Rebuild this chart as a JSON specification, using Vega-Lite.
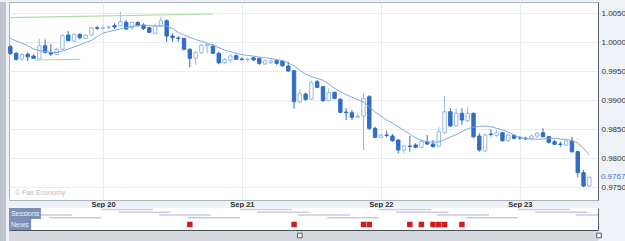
{
"$schema": "https://vega.github.io/schema/vega-lite/v6.json",
"background": "#eef1f6",
"padding": {"left": 0, "top": 1, "right": 0, "bottom": 0},
"config": {"font": "Liberation Sans", "view": {"stroke": null}, "axisY": {"labelOverlap": false}},
"spacing": 0,
"datasets": {
"candles": [
{"t":"2022-09-19T08:00","o":0.99919,"h":0.99948,"l":0.99776,"c":0.99805,"m":1.00060},
{"t":"2022-09-19T09:00","o":0.99805,"h":0.99822,"l":0.99678,"c":0.99702,"m":1.00017},
{"t":"2022-09-19T10:00","o":0.99707,"h":0.99815,"l":0.99672,"c":0.99788,"m":0.99978},
{"t":"2022-09-19T11:00","o":0.99788,"h":0.99822,"l":0.99672,"c":0.99746,"m":0.99940},
{"t":"2022-09-19T12:00","o":0.99759,"h":0.99788,"l":0.99707,"c":0.99719,"m":0.99879},
{"t":"2022-09-19T13:00","o":0.99707,"h":1.00052,"l":0.99690,"c":0.99936,"m":0.99852},
{"t":"2022-09-19T14:00","o":0.99936,"h":1.00046,"l":0.99805,"c":0.99822,"m":0.99834},
{"t":"2022-09-19T15:00","o":0.99819,"h":0.99965,"l":0.99759,"c":0.99793,"m":0.99824},
{"t":"2022-09-19T16:00","o":0.99788,"h":0.99902,"l":0.99776,"c":0.99874,"m":0.99817},
{"t":"2022-09-19T17:00","o":0.99874,"h":1.00133,"l":0.99862,"c":1.00109,"m":0.99845},
{"t":"2022-09-19T18:00","o":1.00121,"h":1.00190,"l":1.00017,"c":1.00022,"m":0.99879},
{"t":"2022-09-19T19:00","o":1.00017,"h":1.00150,"l":1.00005,"c":1.00133,"m":0.99914},
{"t":"2022-09-19T20:00","o":1.00133,"h":1.00150,"l":1.00046,"c":1.00074,"m":0.99952},
{"t":"2022-09-19T21:00","o":1.00064,"h":1.00133,"l":1.00052,"c":1.00121,"m":0.99991},
{"t":"2022-09-19T22:00","o":1.00121,"h":1.00264,"l":1.00109,"c":1.00246,"m":1.00029},
{"t":"2022-09-19T23:00","o":1.00246,"h":1.00281,"l":1.00207,"c":1.00236,"m":1.00091},
{"t":"2022-09-20T00:00","o":1.00236,"h":1.00281,"l":1.00212,"c":1.00246,"m":1.00153},
{"t":"2022-09-20T01:00","o":1.00246,"h":1.00293,"l":1.00219,"c":1.00259,"m":1.00179},
{"t":"2022-09-20T02:00","o":1.00281,"h":1.00322,"l":1.00224,"c":1.00259,"m":1.00202},
{"t":"2022-09-20T03:00","o":1.00281,"h":1.00522,"l":1.00276,"c":1.00350,"m":1.00224},
{"t":"2022-09-20T04:00","o":1.00340,"h":1.00379,"l":1.00207,"c":1.00224,"m":1.00248},
{"t":"2022-09-20T05:00","o":1.00246,"h":1.00350,"l":1.00207,"c":1.00340,"m":1.00267},
{"t":"2022-09-20T06:00","o":1.00340,"h":1.00350,"l":1.00271,"c":1.00281,"m":1.00283},
{"t":"2022-09-20T07:00","o":1.00293,"h":1.00322,"l":1.00207,"c":1.00236,"m":1.00293},
{"t":"2022-09-20T08:00","o":1.00246,"h":1.00264,"l":1.00155,"c":1.00167,"m":1.00284},
{"t":"2022-09-20T09:00","o":1.00150,"h":1.00322,"l":1.00133,"c":1.00276,"m":1.00276},
{"t":"2022-09-20T10:00","o":1.00276,"h":1.00436,"l":1.00264,"c":1.00367,"m":1.00276},
{"t":"2022-09-20T11:00","o":1.00367,"h":1.00391,"l":1.00005,"c":1.00103,"m":1.00276},
{"t":"2022-09-20T12:00","o":1.00103,"h":1.00150,"l":1.00005,"c":1.00074,"m":1.00233},
{"t":"2022-09-20T13:00","o":1.00069,"h":1.00103,"l":1.00005,"c":1.00060,"m":1.00164},
{"t":"2022-09-20T14:00","o":1.00064,"h":1.00069,"l":0.99862,"c":0.99874,"m":1.00121},
{"t":"2022-09-20T15:00","o":0.99874,"h":0.99891,"l":0.99564,"c":0.99719,"m":1.00079},
{"t":"2022-09-20T16:00","o":0.99719,"h":0.99850,"l":0.99603,"c":0.99815,"m":1.00043},
{"t":"2022-09-20T17:00","o":0.99815,"h":0.99965,"l":0.99805,"c":0.99948,"m":1.00012},
{"t":"2022-09-20T18:00","o":0.99936,"h":0.99965,"l":0.99805,"c":0.99960,"m":0.99978},
{"t":"2022-09-20T19:00","o":0.99931,"h":0.99965,"l":0.99793,"c":0.99805,"m":0.99943},
{"t":"2022-09-20T20:00","o":0.99805,"h":0.99833,"l":0.99615,"c":0.99643,"m":0.99903},
{"t":"2022-09-20T21:00","o":0.99643,"h":0.99719,"l":0.99621,"c":0.99702,"m":0.99862},
{"t":"2022-09-20T22:00","o":0.99690,"h":0.99788,"l":0.99633,"c":0.99759,"m":0.99833},
{"t":"2022-09-20T23:00","o":0.99764,"h":0.99788,"l":0.99690,"c":0.99702,"m":0.99805},
{"t":"2022-09-21T00:00","o":0.99707,"h":0.99736,"l":0.99678,"c":0.99698,"m":0.99783},
{"t":"2022-09-21T01:00","o":0.99698,"h":0.99719,"l":0.99660,"c":0.99707,"m":0.99769},
{"t":"2022-09-21T02:00","o":0.99729,"h":0.99746,"l":0.99678,"c":0.99690,"m":0.99757},
{"t":"2022-09-21T03:00","o":0.99719,"h":0.99736,"l":0.99603,"c":0.99633,"m":0.99741},
{"t":"2022-09-21T04:00","o":0.99621,"h":0.99702,"l":0.99603,"c":0.99678,"m":0.99729},
{"t":"2022-09-21T05:00","o":0.99643,"h":0.99702,"l":0.99621,"c":0.99672,"m":0.99715},
{"t":"2022-09-21T06:00","o":0.99678,"h":0.99702,"l":0.99603,"c":0.99633,"m":0.99696},
{"t":"2022-09-21T07:00","o":0.99672,"h":0.99690,"l":0.99574,"c":0.99591,"m":0.99678},
{"t":"2022-09-21T08:00","o":0.99586,"h":0.99660,"l":0.99488,"c":0.99500,"m":0.99641},
{"t":"2022-09-21T09:00","o":0.99505,"h":0.99517,"l":0.98853,"c":0.98971,"m":0.99586},
{"t":"2022-09-21T10:00","o":0.98971,"h":0.99184,"l":0.98943,"c":0.99115,"m":0.99514},
{"t":"2022-09-21T11:00","o":0.99103,"h":0.99126,"l":0.98988,"c":0.99012,"m":0.99448},
{"t":"2022-09-21T12:00","o":0.99012,"h":0.99333,"l":0.99000,"c":0.99298,"m":0.99403},
{"t":"2022-09-21T13:00","o":0.99315,"h":0.99345,"l":0.99202,"c":0.99219,"m":0.99374},
{"t":"2022-09-21T14:00","o":0.99229,"h":0.99241,"l":0.98971,"c":0.98988,"m":0.99340},
{"t":"2022-09-21T15:00","o":0.98988,"h":0.99202,"l":0.98971,"c":0.99126,"m":0.99276},
{"t":"2022-09-21T16:00","o":0.99133,"h":0.99143,"l":0.99012,"c":0.99029,"m":0.99200},
{"t":"2022-09-21T17:00","o":0.99012,"h":0.99029,"l":0.98771,"c":0.98788,"m":0.99143},
{"t":"2022-09-21T18:00","o":0.98793,"h":0.98857,"l":0.98655,"c":0.98781,"m":0.99093},
{"t":"2022-09-21T19:00","o":0.98781,"h":0.98828,"l":0.98655,"c":0.98702,"m":0.99047},
{"t":"2022-09-21T20:00","o":0.98702,"h":0.98771,"l":0.98684,"c":0.98724,"m":0.99003},
{"t":"2022-09-21T21:00","o":0.98724,"h":0.99115,"l":0.98138,"c":0.99029,"m":0.98965},
{"t":"2022-09-21T22:00","o":0.99057,"h":0.99086,"l":0.98483,"c":0.98512,"m":0.98879},
{"t":"2022-09-21T23:00","o":0.98512,"h":0.98540,"l":0.98340,"c":0.98357,"m":0.98793},
{"t":"2022-09-22T00:00","o":0.98357,"h":0.98414,"l":0.98340,"c":0.98397,"m":0.98724},
{"t":"2022-09-22T01:00","o":0.98397,"h":0.98471,"l":0.98357,"c":0.98388,"m":0.98655},
{"t":"2022-09-22T02:00","o":0.98379,"h":0.98414,"l":0.98281,"c":0.98298,"m":0.98603},
{"t":"2022-09-22T03:00","o":0.98310,"h":0.98322,"l":0.98081,"c":0.98138,"m":0.98540},
{"t":"2022-09-22T04:00","o":0.98138,"h":0.98224,"l":0.98081,"c":0.98207,"m":0.98474},
{"t":"2022-09-22T05:00","o":0.98207,"h":0.98379,"l":0.98109,"c":0.98198,"m":0.98414},
{"t":"2022-09-22T06:00","o":0.98224,"h":0.98253,"l":0.98167,"c":0.98184,"m":0.98345},
{"t":"2022-09-22T07:00","o":0.98184,"h":0.98310,"l":0.98167,"c":0.98281,"m":0.98302},
{"t":"2022-09-22T08:00","o":0.98281,"h":0.98397,"l":0.98224,"c":0.98241,"m":0.98281},
{"t":"2022-09-22T09:00","o":0.98241,"h":0.98310,"l":0.98184,"c":0.98195,"m":0.98276},
{"t":"2022-09-22T10:00","o":0.98207,"h":0.98540,"l":0.98184,"c":0.98453,"m":0.98276},
{"t":"2022-09-22T11:00","o":0.98436,"h":0.99069,"l":0.98426,"c":0.98798,"m":0.98319},
{"t":"2022-09-22T12:00","o":0.98798,"h":0.98857,"l":0.98540,"c":0.98552,"m":0.98362},
{"t":"2022-09-22T13:00","o":0.98552,"h":0.98857,"l":0.98540,"c":0.98771,"m":0.98403},
{"t":"2022-09-22T14:00","o":0.98771,"h":0.98857,"l":0.98569,"c":0.98655,"m":0.98453},
{"t":"2022-09-22T15:00","o":0.98643,"h":0.98874,"l":0.98626,"c":0.98771,"m":0.98505},
{"t":"2022-09-22T16:00","o":0.98771,"h":0.98781,"l":0.98340,"c":0.98367,"m":0.98534},
{"t":"2022-09-22T17:00","o":0.98379,"h":0.98426,"l":0.98109,"c":0.98138,"m":0.98543},
{"t":"2022-09-22T18:00","o":0.98121,"h":0.98426,"l":0.98109,"c":0.98397,"m":0.98552},
{"t":"2022-09-22T19:00","o":0.98414,"h":0.98495,"l":0.98367,"c":0.98405,"m":0.98540},
{"t":"2022-09-22T20:00","o":0.98391,"h":0.98483,"l":0.98367,"c":0.98436,"m":0.98512},
{"t":"2022-09-22T21:00","o":0.98436,"h":0.98453,"l":0.98281,"c":0.98298,"m":0.98486},
{"t":"2022-09-22T22:00","o":0.98298,"h":0.98426,"l":0.98281,"c":0.98397,"m":0.98448},
{"t":"2022-09-22T23:00","o":0.98391,"h":0.98408,"l":0.98322,"c":0.98340,"m":0.98397},
{"t":"2022-09-23T00:00","o":0.98353,"h":0.98379,"l":0.98310,"c":0.98345,"m":0.98348},
{"t":"2022-09-23T01:00","o":0.98340,"h":0.98367,"l":0.98310,"c":0.98328,"m":0.98338},
{"t":"2022-09-23T02:00","o":0.98333,"h":0.98408,"l":0.98310,"c":0.98379,"m":0.98329},
{"t":"2022-09-23T03:00","o":0.98379,"h":0.98453,"l":0.98340,"c":0.98426,"m":0.98322},
{"t":"2022-09-23T04:00","o":0.98436,"h":0.98512,"l":0.98357,"c":0.98367,"m":0.98328},
{"t":"2022-09-23T05:00","o":0.98367,"h":0.98379,"l":0.98253,"c":0.98271,"m":0.98334},
{"t":"2022-09-23T06:00","o":0.98281,"h":0.98310,"l":0.98224,"c":0.98236,"m":0.98340},
{"t":"2022-09-23T07:00","o":0.98241,"h":0.98281,"l":0.98195,"c":0.98233,"m":0.98329},
{"t":"2022-09-23T08:00","o":0.98224,"h":0.98310,"l":0.98207,"c":0.98293,"m":0.98319},
{"t":"2022-09-23T09:00","o":0.98293,"h":0.98367,"l":0.98091,"c":0.98109,"m":0.98303},
{"t":"2022-09-23T10:00","o":0.98109,"h":0.98126,"l":0.97667,"c":0.97747,"m":0.98258},
{"t":"2022-09-23T11:00","o":0.97747,"h":0.97793,"l":0.97505,"c":0.97517,"m":0.98164},
{"t":"2022-09-23T12:00","o":0.97517,"h":0.97672,"l":0.97505,"c":0.97670,"m":0.98052}
],
"trend": [
{"g":"u","t":"2022-09-19T07:46","p":1.00422},
{"g":"u","t":"2022-09-20T19:00","p":1.00483},
{"g":"d","t":"2022-09-19T12:15","p":0.99690},
{"g":"d","t":"2022-09-19T20:05","p":0.99702}
],
"notes": [
{"t":"2022-09-23T14:00","p":0.9767,"txt":"0.9767","k":"price"},
{"t":"2022-09-19T08:48","p":0.97397,"txt":"© Fair Economy","k":"copy"}
],
"sessions": [
{"r":1,"s":"2022-09-18T23:40","e":"2022-09-19T08:40"},
{"r":1,"s":"2022-09-19T23:40","e":"2022-09-20T08:40"},
{"r":1,"s":"2022-09-20T23:40","e":"2022-09-21T08:40"},
{"r":1,"s":"2022-09-21T23:40","e":"2022-09-22T08:40"},
{"r":1,"s":"2022-09-22T23:40","e":"2022-09-23T08:40"},
{"r":2,"s":"2022-09-19T02:40","e":"2022-09-19T11:40"},
{"r":2,"s":"2022-09-20T02:40","e":"2022-09-20T11:40"},
{"r":2,"s":"2022-09-21T02:40","e":"2022-09-21T11:40"},
{"r":2,"s":"2022-09-22T02:40","e":"2022-09-22T11:40"},
{"r":2,"s":"2022-09-23T02:40","e":"2022-09-23T11:40"},
{"r":3,"s":"2022-09-19T09:40","e":"2022-09-19T18:40"},
{"r":3,"s":"2022-09-20T09:40","e":"2022-09-20T18:40"},
{"r":3,"s":"2022-09-21T09:40","e":"2022-09-21T18:40"},
{"r":3,"s":"2022-09-22T09:40","e":"2022-09-22T18:40"},
{"r":3,"s":"2022-09-23T09:40","e":"2022-09-23T18:40"},
{"r":4,"s":"2022-09-19T14:40","e":"2022-09-19T23:40"},
{"r":4,"s":"2022-09-20T14:40","e":"2022-09-20T23:40"},
{"r":4,"s":"2022-09-21T14:40","e":"2022-09-21T23:40"},
{"r":4,"s":"2022-09-22T14:40","e":"2022-09-22T23:40"}
],
"news": [
{"t":"2022-09-20T15:00"},
{"t":"2022-09-21T09:00"},
{"t":"2022-09-21T21:00"},
{"t":"2022-09-21T22:00"},
{"t":"2022-09-22T05:00"},
{"t":"2022-09-22T07:00"},
{"t":"2022-09-22T09:00"},
{"t":"2022-09-22T10:00"},
{"t":"2022-09-22T11:00"},
{"t":"2022-09-22T14:00"}
],
"handles": [
{"t":"2022-09-21T10:00"},
{"t":"2022-09-23T13:40"}
]
},
"hconcat": [
{
"width": 6, "height": 240,
"view": {"fill": "#bfc3cb", "stroke": null},
"data": {"values": [{}]},
"mark": {"type": "rect", "color": "#bfc3cb"},
"encoding": {}
},
{
"spacing": 0,
"vconcat": [
{
"width": 589, "height": 198,
"view": {"fill": "#ffffff", "stroke": "#aab2bf", "strokeWidth": 1},
"encoding": {
"x": {"field": "t", "type": "temporal", "title": null,
"scale": {"domain": [{"year":2022,"month":9,"date":19,"hours":7,"minutes":46},{"year":2022,"month":9,"date":23,"hours":13,"minutes":30}], "padding": 0, "nice": false},
"axis": {"orient": "bottom", "values": [{"year":2022,"month":9,"date":20},{"year":2022,"month":9,"date":21},{"year":2022,"month":9,"date":22},{"year":2022,"month":9,"date":23}],
"format": "%b %d", "labelFontSize": 7.5, "labelFontWeight": "bold", "labelColor": "#2b2b2b", "ticks": false, "domain": false, "grid": true, "gridColor": "#e6ebf2", "labelPadding": 0, "labelFlush": false}}
},
"layer": [
{
"data": {"name": "candles"},
"mark": {"type": "rule", "strokeWidth": 1},
"encoding": {
"y": {"field": "l", "type": "quantitative", "title": null,
"scale": {"domain": [0.97276, 1.0069], "nice": false, "zero": false},
"axis": {"orient": "right", "values": [0.975, 0.98, 0.985, 0.99, 0.995, 1.0, 1.005], "format": ".4f", "labelOverlap": false, "labelFontSize": 8, "labelColor": "#333333", "ticks": false, "labelPadding": 3, "domainColor": "#5a5f68", "grid": true, "gridColor": "#e9edf2"}},
"y2": {"field": "h"},
"stroke": {"condition": {"test": "datum.c < datum.o", "value": "#2f6dc6"}, "value": "#94b6e6"}
}
},
{
"data": {"name": "candles"},
"mark": {"type": "bar", "width": 3.4, "strokeWidth": 1},
"encoding": {
"y": {"field": "o", "type": "quantitative", "title": null,
"axis": {"orient": "right", "values": [0.975, 0.98, 0.985, 0.99, 0.995, 1.0, 1.005], "format": ".4f", "labelOverlap": false, "labelFontSize": 8, "labelColor": "#333333", "ticks": false, "labelPadding": 3, "domainColor": "#5a5f68", "grid": true, "gridColor": "#e9edf2"}},
"y2": {"field": "c"},
"fill": {"condition": {"test": "datum.c < datum.o", "value": "#2f6dc6"}, "value": "#ffffff"},
"stroke": {"condition": {"test": "datum.c < datum.o", "value": "#2f6dc6"}, "value": "#94b6e6"}
}
},
{
"data": {"name": "candles"},
"mark": {"type": "line", "color": "#7fa8e4", "strokeWidth": 1},
"encoding": {"y": {"field": "m", "type": "quantitative", "title": null,
"axis": {"orient": "right", "values": [0.975, 0.98, 0.985, 0.99, 0.995, 1.0, 1.005], "format": ".4f", "labelOverlap": false, "labelFontSize": 8, "labelColor": "#333333", "ticks": false, "labelPadding": 3, "domainColor": "#5a5f68", "grid": true, "gridColor": "#e9edf2"}}}
},
{
"data": {"name": "trend"},
"mark": {"type": "line", "color": "#a9dca3", "strokeWidth": 1.2},
"encoding": {"y": {"field": "p", "type": "quantitative", "title": null,
"axis": {"orient": "right", "values": [0.975, 0.98, 0.985, 0.99, 0.995, 1.0, 1.005], "format": ".4f", "labelOverlap": false, "labelFontSize": 8, "labelColor": "#333333", "ticks": false, "labelPadding": 3, "domainColor": "#5a5f68", "grid": true, "gridColor": "#e9edf2"}}, "detail": {"field": "g"}}
},
{
"data": {"name": "notes"},
"mark": {"type": "text", "align": "left", "baseline": "middle", "clip": false},
"encoding": {"y": {"field": "p", "type": "quantitative", "title": null,
"axis": {"orient": "right", "values": [0.975, 0.98, 0.985, 0.99, 0.995, 1.0, 1.005], "format": ".4f", "labelOverlap": false, "labelFontSize": 8, "labelColor": "#333333", "ticks": false, "labelPadding": 3, "domainColor": "#5a5f68", "grid": true, "gridColor": "#e9edf2"}},
"text": {"field": "txt"},
"color": {"field": "k", "type": "nominal", "scale": {"domain": ["price", "copy"], "range": ["#3d78cf", "#b5bcc9"]}, "legend": null},
"size": {"field": "k", "type": "nominal", "scale": {"domain": ["price", "copy"], "range": [8, 7]}, "legend": null}}
}
]
},
{
"width": 589, "height": 11,
"view": {"fill": "#ffffff", "stroke": null},
"layer": [
{
"data": {"name": "sessions"},
"mark": {"type": "rule", "strokeWidth": 1.5, "color": "#c9cbe2", "clip": true},
"encoding": {
"x": {"field": "s", "type": "temporal", "title": null, "scale": {"domain": [{"year":2022,"month":9,"date":19,"hours":7,"minutes":46},{"year":2022,"month":9,"date":23,"hours":13,"minutes":30}], "padding": 0}, "axis": null},
"x2": {"field": "e"},
"y": {"field": "r", "type": "ordinal", "title": null, "scale": {"type": "point", "padding": 0.5}, "axis": {"orient": "right", "labels": false, "ticks": false, "grid": false, "domainColor": "#5a5f68", "title": null}}
}
},
{
"data": {"values": [{}]},
"mark": {"type": "rect", "color": "#7c8fb5"},
"encoding": {"x": {"datum": {"year":2022,"month":9,"date":19,"hours":7,"minutes":46}, "axis": null}, "x2": {"datum": {"year":2022,"month":9,"date":19,"hours":13,"minutes":17}}}
},
{
"data": {"values": [{}]},
"mark": {"type": "text", "text": "Sessions", "align": "left", "baseline": "middle", "fontSize": 7, "color": "#eef2f8"},
"encoding": {"x": {"datum": {"year":2022,"month":9,"date":19,"hours":8,"minutes":6}, "axis": null}}
}
]
},
{
"width": 589, "height": 11,
"view": {"fill": "#ffffff", "stroke": null},
"layer": [
{
"data": {"name": "news"},
"mark": {"type": "point", "shape": "square", "filled": true, "color": "#cf1d1d", "size": 30, "opacity": 1},
"encoding": {"x": {"field": "t", "type": "temporal", "title": null, "scale": {"domain": [{"year":2022,"month":9,"date":19,"hours":7,"minutes":46},{"year":2022,"month":9,"date":23,"hours":13,"minutes":30}], "padding": 0}, "axis": null},
"y": {"datum": "News", "type": "nominal", "title": null, "scale": {"type": "point", "padding": 0.5}, "axis": {"orient": "right", "labels": false, "ticks": false, "grid": false, "domainColor": "#5a5f68", "title": null}}}
},
{
"data": {"values": [{}]},
"mark": {"type": "rect", "color": "#7c8fb5"},
"encoding": {"x": {"datum": {"year":2022,"month":9,"date":19,"hours":7,"minutes":46}, "axis": null}, "x2": {"datum": {"year":2022,"month":9,"date":19,"hours":11,"minutes":36}}}
},
{
"data": {"values": [{}]},
"mark": {"type": "text", "text": "News", "align": "left", "baseline": "middle", "fontSize": 7, "color": "#eef2f8"},
"encoding": {"x": {"datum": {"year":2022,"month":9,"date":19,"hours":8,"minutes":6}, "axis": null}}
}
]
},
{
"width": 589, "height": 11,
"view": {"fill": "#d4d7de", "stroke": null},
"data": {"name": "handles"},
"mark": {"type": "point", "shape": "square", "filled": true, "fill": "#f2f2f2", "stroke": "#5a5f68", "strokeWidth": 1, "size": 22, "opacity": 1},
"encoding": {"x": {"field": "t", "type": "temporal", "title": null, "scale": {"domain": [{"year":2022,"month":9,"date":19,"hours":7,"minutes":46},{"year":2022,"month":9,"date":23,"hours":13,"minutes":30}], "padding": 0}, "axis": {"orient": "top", "labels": false, "ticks": false, "grid": false, "domainColor": "#4a4f58", "title": null}}}
}
]
}
]
}
